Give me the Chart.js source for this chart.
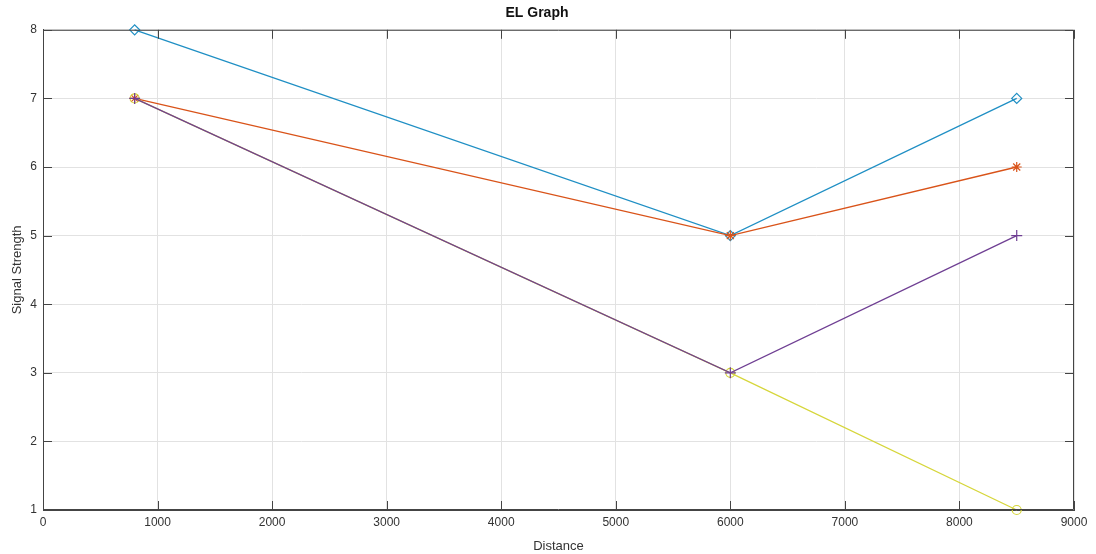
<!DOCTYPE html>
<html>
<head>
<meta charset="utf-8">
<script src="https://cdn.jsdelivr.net/npm/chart.js@4/dist/chart.umd.min.js"></script>
<style>
  html, body { margin: 0; padding: 0; background: #fff; }
  #wrap { width: 1096px; height: 554px; }
</style>
</head>
<body>
<div id="wrap"><canvas id="chart"></canvas></div>
<script>
// ── Data ────────────────────────────────────────────────
const distances = [800, 6000, 8500];
const diamondSeries = [8, 5, 7];
const starSeries = [7, 5, 6];
const circleSeries = [7, 3, 1];
const plusSeries = [7, 3, 5];
const xTicks = [0, 1000, 2000, 3000, 4000, 5000, 6000, 7000, 8000, 9000];
const yTicks = [1, 2, 3, 4, 5, 6, 7, 8];

const FONT = 'Liberation Sans, Arial, sans-serif';
const AXIS = '#444';
const TEXT = '#333';

const toPoints = (ys) => distances.map((x, i) => ({ x, y: ys[i] }));

function series(label, ys, color, style, radius, order) {
  return {
    label,
    data: toPoints(ys),
    borderColor: color,
    backgroundColor: 'rgba(0,0,0,0)',
    borderWidth: 1.3,
    pointStyle: style,
    pointRadius: radius,
    pointBorderWidth: 1.2,
    pointBorderColor: color,
    tension: 0,
    clip: false,
    order,
  };
}

// MATLAB style box with inward ticks on every side
const boxPlugin = {
  id: 'box',
  afterDraw(chart) {
    const { ctx, chartArea: a, scales } = chart;
    const len = 9;
    ctx.save();
    ctx.strokeStyle = AXIS;
    ctx.lineWidth = 1;
    ctx.beginPath();
    ctx.rect(a.left + 0.5, a.top + 0.5, a.right - a.left - 1, a.bottom - a.top - 1);
    xTicks.forEach(v => {
      const px = Math.round(scales.x.getPixelForValue(v)) + 0.5;
      ctx.moveTo(px, a.bottom); ctx.lineTo(px, a.bottom - len);
      ctx.moveTo(px, a.top); ctx.lineTo(px, a.top + len);
    });
    yTicks.forEach(v => {
      const py = Math.round(scales.y.getPixelForValue(v)) + 0.5;
      ctx.moveTo(a.left, py); ctx.lineTo(a.left + len, py);
      ctx.moveTo(a.right, py); ctx.lineTo(a.right - len, py);
    });
    ctx.stroke();
    ctx.restore();
  }
};

new Chart(document.getElementById('chart'), {
  type: 'line',
  data: {
    datasets: [
      series('A', diamondSeries, '#1f8fc4', 'rectRot', 5, 3),
      series('B', starSeries, '#d95319', 'star', 5, 2),
      series('C', circleSeries, '#d6d63a', 'circle', 4.5, 1),
      series('D', plusSeries, '#6f3f93', 'cross', 5.5, 0),
    ],
  },
  options: {
    responsive: true,
    maintainAspectRatio: false,
    animation: false,
    layout: { padding: { left: 0, right: 22, top: 0, bottom: 0 } },
    plugins: {
      legend: { display: false },
      tooltip: { enabled: false },
      title: {
        display: true,
        text: 'EL Graph',
        color: '#111',
        font: { family: FONT, size: 14, weight: 'bold' },
        padding: { top: 5, bottom: 8 },
      },
    },
    scales: {
      x: {
        type: 'linear',
        min: 0,
        max: 9000,
        afterBuildTicks: (s) => { s.ticks = xTicks.map(v => ({ value: v })); },
        afterFit: (s) => { s.height = 44; },
        ticks: { color: TEXT, font: { family: FONT, size: 12 }, padding: 5, maxRotation: 0, callback: (v) => String(v) },
        grid: { color: '#e2e2e2', drawTicks: false },
        border: { color: AXIS },
        title: {
          display: true,
          text: 'Distance',
          color: TEXT,
          font: { family: FONT, size: 13 },
          padding: { top: 1, bottom: 0 },
        },
      },
      y: {
        type: 'linear',
        min: 1,
        max: 8,
        afterBuildTicks: (s) => { s.ticks = yTicks.map(v => ({ value: v })); },
        afterFit: (s) => { s.width = 43; },
        ticks: { color: TEXT, font: { family: FONT, size: 12 }, padding: 6, callback: (v) => String(v) },
        grid: { color: '#e2e2e2', drawTicks: false },
        border: { color: AXIS },
        title: {
          display: true,
          text: 'Signal Strength',
          color: TEXT,
          font: { family: FONT, size: 13 },
          padding: { top: 10, bottom: 0 },
        },
      },
    },
  },
  plugins: [boxPlugin],
});
</script>
</body>
</html>
